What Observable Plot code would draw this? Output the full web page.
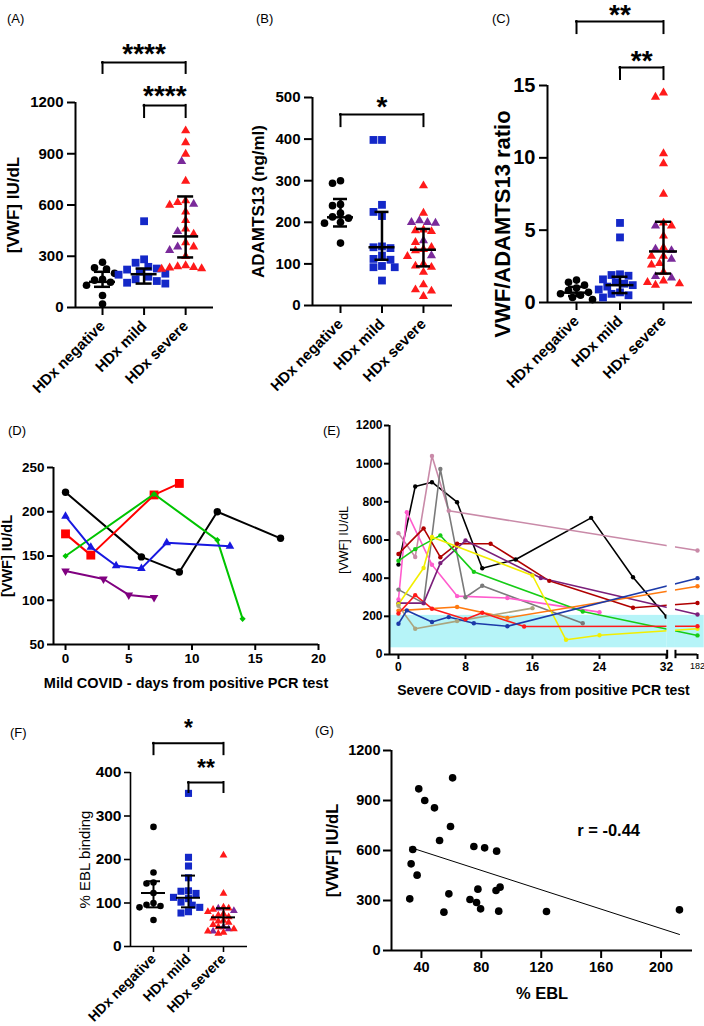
<!DOCTYPE html>
<html>
<head>
<meta charset="utf-8">
<script src="https://cdn.jsdelivr.net/npm/d3@7"></script>
<script src="https://cdn.jsdelivr.net/npm/@observablehq/plot@0.6"></script>
<style>
html,body{margin:0;padding:0;background:#fff;}
#root{position:relative;width:704px;height:1026px;overflow:hidden;background:#fff;font-family:"Liberation Sans",Arial,sans-serif;}
#root svg{position:absolute;overflow:visible;}
.plab{position:absolute;font-size:13px;line-height:13px;color:#000;font-family:"Liberation Sans",Arial,sans-serif;}
</style>
</head>
<body>
<div id="root"></div>
<script>
// ================= DATA =================
const groups = ["HDx negative", "HDx mild", "HDx severe"];

// (A) VWF antigen, IU/dL
const vwfNegative = [265, 232, 225, 200, 165, 160, 148, 130, 70, 20];
const vwfMild = [505, 282, 262, 238, 228, 222, 210, 198, 192, 180, 165, 155, 145, 140];
const vwfSevere = [1035, 965, 898, 855, 740, 625, 615, 605, 600, 560, 510, 460, 445, 430, 380, 355, 355, 335, 300, 245, 240, 235, 232, 228, 225];
const vwfSevereSubgroup = [0,0,0,1,0,0,0,1,0,0,0,0,1,0,0,1,0,1,0,0,0,0,0,0,0];
const vwfMedian = [150, 195, 416];
const vwfLower = [121, 140, 293];
const vwfUpper = [209, 228, 650];

// (B) ADAMTS13 ng/ml
const adNegative = [300, 294, 243, 240, 222, 213, 210, 200, 198, 150];
const adMild = [398, 398, 242, 225, 215, 142, 140, 138, 120, 112, 110, 95, 92, 92, 60];
const adSevere = [288, 222, 204, 200, 200, 198, 182, 180, 178, 156, 152, 140, 135, 132, 120, 118, 100, 95, 92, 80, 50, 38, 35, 22];
const adSevereSubgroup = [0,0,1,1,1,1,0,0,0,1,0,0,0,0,1,0,0,0,0,0,0,0,0,0];
const adMedian = [212, 140, 134];
const adLower = [190, 110, 94];
const adUpper = [256, 225, 184];

// (C) VWF/ADAMTS13 ratio
const ratioNegative = [1.55, 1.4, 1.2, 1.0, 0.85, 0.7, 0.6, 0.5, 0.35, 0.2];
const ratioMild = [5.5, 4.5, 1.95, 1.9, 1.85, 1.6, 1.4, 1.3, 1.2, 1.1, 0.9, 0.7, 0.6, 0.5, 0.35];
const ratioSevere = [14.5, 14.2, 10.3, 9.6, 7.5, 5.5, 5.3, 5.3, 4.6, 3.8, 3.7, 3.6, 3.2, 3.2, 3.0, 2.7, 2.6, 2.1, 1.8, 1.7, 1.5, 1.4, 1.3, 1.2];
const ratioSevereSubgroup = [0,0,0,0,0,0,1,0,0,0,1,1,0,0,1,0,0,0,1,1,0,0,0,0];
const ratioMedian = [0.68, 1.2, 3.53];
const ratioLower = [0.45, 0.65, 2.0];
const ratioUpper = [1.08, 1.78, 5.58];

// (D) Mild COVID time courses
const mild1Days = [0, 6, 9, 12, 17];      const mild1VWF = [222, 149, 132, 200, 170];
const mild2Days = [0, 2, 7, 9];           const mild2VWF = [175, 151, 219, 232];
const mild3Days = [0, 7, 12, 14];         const mild3VWF = [150, 220, 168, 79];
const mild4Days = [0, 2, 4, 6, 8, 13];    const mild4VWF = [195, 160, 139, 136, 165, 161];
const mild5Days = [0, 3, 5, 7];           const mild5VWF = [133, 124, 106, 103];

// (E) Severe COVID time courses (182 = late follow-up)
const sev1Days  = [0, 2, 4, 7, 10, 14, 23, 28, 32];  const sev1VWF  = [471, 880, 903, 798, 452, 498, 716, 405, 198];
const sev2Days  = [0, 2, 4, 6, 182];                 const sev2VWF  = [636, 511, 1040, 753, 545];
const sev3Days  = [0, 3, 5, 8, 10, 22];              const sev3VWF  = [340, 269, 972, 300, 360, 164];
const sev4Days  = [0, 1, 4, 7, 13, 24];              const sev4VWF  = [288, 746, 470, 306, 296, 222];
const sev5Days  = [0, 3, 5, 7, 11, 18, 28, 182];     const sev5VWF  = [527, 661, 510, 580, 580, 386, 245, 270];
const sev6Days  = [0, 3, 5, 8, 17, 182];             const sev6VWF  = [269, 269, 479, 597, 401, 210];
const sev7Days  = [0, 2, 5, 9, 22, 182];             const sev7VWF  = [491, 552, 624, 433, 225, 100];
const sev8Days  = [0, 3, 4, 16, 20, 24, 182];        const sev8VWF  = [263, 453, 616, 414, 77, 101, 135];
const sev9Days  = [0, 7, 13, 182];                   const sev9VWF  = [230, 249, 192, 358];
const sev10Days = [0, 2, 7, 16];                     const sev10VWF = [255, 135, 175, 243];
const sev11Days = [0, 2, 4, 8, 10, 15, 182];         const sev11VWF = [215, 311, 240, 185, 219, 147, 148];
const sev12Days = [0, 1, 4, 6, 9, 13, 182];          const sev12VWF = [161, 231, 170, 196, 164, 148, 400];
const normalRange = [35, 205];

// (F) % EBL binding
const eblNegative = [275, 170, 147, 145, 123, 100, 96, 93, 90, 61];
const eblMild = [352, 205, 185, 158, 128, 127, 122, 113, 110, 102, 95, 90, 80, 77];
const eblSevere = [210, 122, 90, 88, 88, 85, 82, 80, 75, 72, 68, 65, 60, 58, 55, 50, 45, 45, 40, 40, 35, 35, 32, 30];
const eblSevereSubgroup = [0,0,0,1,0,0,1,0,0,0,0,0,0,0,0,0,1,0,1,0,1,0,0,0];
const eblMedian = [123, 112, 67];
const eblLower = [90, 90, 44];
const eblUpper = [150, 163, 88];

// (G) VWF vs % EBL
const corrEBL = [32.2, 33.1, 34.2, 37.1, 38.2, 42.2, 48.7, 52.1, 55.0, 58.3, 59.4, 60.8, 72.4, 75.0, 76.8, 77.7, 79.5, 82.2, 89.8, 90.2, 91.6, 92.5, 123.5, 212.3];
const corrVWF = [310, 520, 606, 452, 970, 900, 856, 660, 230, 340, 744, 1036, 306, 624, 288, 368, 250, 616, 360, 596, 236, 380, 234, 244];
const corrR = "r = -0.44";

// ================= STYLE / HELPERS =================
const FONT = "'Liberation Sans', Arial, sans-serif";
const BLUE = "#1428c8", RED = "#ff1a1a", PURPLE = "#7a2a9a";
const plain = d => `${d}`;
const root = document.getElementById("root");
function place(svg, left, top) {
  svg.style.left = left + "px"; svg.style.top = top + "px";
  root.appendChild(svg);
}
function label(txt, left, top) {
  const d = document.createElement("div");
  d.className = "plab"; d.textContent = txt;
  d.style.left = left + "px"; d.style.top = top + "px";
  root.appendChild(d);
}
function dodge(vals, pxY, diam) {
  const order = d3.range(vals.length).sort((a, b) => vals[b] - vals[a]);
  const placed = [];
  const off = new Array(vals.length).fill(0);
  for (const i of order) {
    const y = vals[i] * pxY;
    for (let k = 0; k < 80; k++) {
      const c = k === 0 ? 0 : (k % 2 ? -1 : 1) * Math.ceil(k / 2) * diam / 2;
      if (placed.every(p => (p.x - c) ** 2 + (p.y - y) ** 2 >= diam * diam * 0.95)) { off[i] = c; break; }
    }
    placed.push({x: off[i], y});
  }
  return off;
}
const triDown = {
  draw(ctx, size) {
    const s3 = Math.sqrt(3);
    const y = -Math.sqrt(size / (s3 * 3));
    ctx.moveTo(0, -y * 2);
    ctx.lineTo(-s3 * y, y);
    ctx.lineTo(s3 * y, y);
    ctx.closePath();
  }
};

function dotPanel(o) {
  const plotH = o.h - o.mT - o.mB, plotW = o.w - o.mL - o.mR;
  const pxY = plotH / (o.yDomain[1] - o.yDomain[0]);
  const pxX = plotW / (o.xDomain[1] - o.xDomain[0]);
  const rows = [];
  o.series.forEach((vals, g) => {
    const off = dodge(vals, pxY, o.spacing[g]);
    vals.forEach((v, i) => rows.push({g, v, x: g + off[i] / pxX, sub: g === 2 ? o.sub[i] : 0}));
  });
  const stats = [0, 1, 2].map(g => ({g, m: o.median[g], lo: o.lower[g], hi: o.upper[g]}));
  const mw = o.medHalf / pxX, cw = o.capHalf / pxX;
  const [x0, x1] = o.xDomain;
  const lw = o.axisW;
  return Plot.plot({
    width: o.w, height: o.h,
    marginLeft: o.mL, marginRight: o.mR, marginTop: o.mT, marginBottom: o.mB,
    x: {domain: o.xDomain}, y: {domain: o.yDomain},
    style: {fontFamily: FONT, color: "#000", background: "transparent"},
    marks: [
      Plot.ruleY([o.yDomain[0]], {x1: x0, x2: x1, strokeWidth: lw}),
      Plot.ruleX([x0], {y1: o.yDomain[0], y2: o.yDomain[1], strokeWidth: lw}),
      Plot.axisY({ticks: o.yTicks, tickFormat: plain, tickSize: o.tickSize, tickPadding: o.tickPad, fontSize: o.tickFont, fontWeight: "bold", strokeWidth: lw, label: null}),
      Plot.axisX({ticks: [0, 1, 2], tickFormat: i => groups[i], tickRotate: -45, tickSize: o.tickSize, tickPadding: o.catPad, fontSize: o.catFont, fontWeight: "bold", strokeWidth: lw, label: null}),
      Plot.dot(rows.filter(d => d.g === 0), {x: "x", y: "v", symbol: "circle", r: o.r[0], fill: "#000"}),
      Plot.dot(rows.filter(d => d.g === 1), {x: "x", y: "v", symbol: "square", r: o.r[1], fill: BLUE}),
      Plot.dot(rows.filter(d => d.g === 2), {x: "x", y: "v", symbol: "triangle", r: o.r[2], fill: d => d.sub ? PURPLE : RED}),
      Plot.ruleX(stats, {x: "g", y1: "lo", y2: "hi", strokeWidth: o.barW}),
      Plot.ruleY(stats, {y: "m", x1: d => d.g - mw, x2: d => d.g + mw, strokeWidth: o.barW}),
      Plot.ruleY(stats, {y: "lo", x1: d => d.g - cw, x2: d => d.g + cw, strokeWidth: o.barW}),
      Plot.ruleY(stats, {y: "hi", x1: d => d.g - cw, x2: d => d.g + cw, strokeWidth: o.barW}),
      Plot.ruleY(o.brackets, {y: "y", x1: "a", x2: "b", strokeWidth: 2, strokeLinecap: "square"}),
      Plot.ruleX(o.brackets, {x: "a", y1: "drop", y2: "y", strokeWidth: 2, strokeLinecap: "square"}),
      Plot.ruleX(o.brackets, {x: "b", y1: "drop", y2: "y", strokeWidth: 2, strokeLinecap: "square"}),
      Plot.text(o.brackets, {x: d => (d.a + d.b) / 2, y: "y", text: "label", lineAnchor: "bottom", fontSize: o.starFont, fontWeight: "bold", dy: o.starDy}),
      Plot.text([o.yLabel], {text: d => d, frameAnchor: "left", rotate: -90, dx: o.yLabelDx, dy: o.yLabelDy || 0, textAnchor: "middle", lineAnchor: "middle", fontSize: o.yLabelFont, fontWeight: o.yLabelWeight})
    ]
  });
}

// ================= PANEL A =================
place(dotPanel({
  w: 230, h: 410, mL: 75, mR: 17, mT: 102, mB: 103,
  yDomain: [0, 1200], xDomain: [-0.65, 2.67], yTicks: [0, 300, 600, 900, 1200],
  series: [vwfNegative, vwfMild, vwfSevere], sub: vwfSevereSubgroup,
  median: vwfMedian, lower: vwfLower, upper: vwfUpper,
  spacing: [8, 8.5, 8], r: [3.8, 4.4, 3.4], medHalf: 13, capHalf: 8, barW: 2.5,
  axisW: 2, tickSize: 8, tickPad: 4, tickFont: 15, catFont: 15, catPad: 8,
  yLabel: "[VWF] IU/dL", yLabelFont: 17, yLabelWeight: "bold", yLabelDx: -62,
  brackets: [{a: 0, b: 2, y: 1434, drop: 1370, label: "****"}, {a: 1, b: 2, y: 1183, drop: 1112, label: "****"}],
  starFont: 28, starDy: 0
}), 0, 0);

// ================= PANEL B =================
place(dotPanel({
  w: 230, h: 410, mL: 82, mR: 8, mT: 97, mB: 105,
  yDomain: [0, 500], xDomain: [-0.675, 2.7], yTicks: [0, 100, 200, 300, 400, 500],
  series: [adNegative, adMild, adSevere], sub: adSevereSubgroup,
  median: adMedian, lower: adLower, upper: adUpper,
  spacing: [8, 8.5, 8], r: [3.8, 4.4, 3.4], medHalf: 13, capHalf: 7, barW: 2.5,
  axisW: 2, tickSize: 8, tickPad: 4, tickFont: 15, catFont: 15, catPad: 8,
  yLabel: "ADAMTS13 (ng/ml)", yLabelFont: 17, yLabelWeight: "bold", yLabelDx: -54,
  brackets: [{a: 0, b: 2, y: 459, drop: 430, label: "*"}],
  starFont: 28, starDy: 1
}), 230, 0);

// ================= PANEL C =================
place(dotPanel({
  w: 244, h: 410, mL: 87, mR: 12, mT: 85, mB: 108,
  yDomain: [0, 15], xDomain: [-0.667, 2.667], yTicks: [0, 5, 10, 15],
  series: [ratioNegative, ratioMild, ratioSevere], sub: ratioSevereSubgroup,
  median: ratioMedian, lower: ratioLower, upper: ratioUpper,
  spacing: [8, 8.5, 8], r: [3.8, 4.4, 3.4], medHalf: 14, capHalf: 8, barW: 2.5,
  axisW: 2, tickSize: 8, tickPad: 4, tickFont: 20, catFont: 15, catPad: 8,
  yLabel: "VWF/ADAMTS13 ratio", yLabelFont: 22, yLabelWeight: "bold", yLabelDx: -45, yLabelDy: 30,
  brackets: [{a: 0, b: 2, y: 19.42, drop: 18.59, label: "**"}, {a: 1, b: 2, y: 16.24, drop: 15.41, label: "**"}],
  starFont: 28, starDy: 2
}), 460, 0);

// ================= PANEL D =================
(function () {
  const series = [
    {days: mild1Days, v: mild1VWF, color: "#000000", symbol: "circle", r: 3.7},
    {days: mild2Days, v: mild2VWF, color: "#ff0000", symbol: "square", r: 5},
    {days: mild3Days, v: mild3VWF, color: "#00c400", symbol: "diamond2", r: 2.8},
    {days: mild4Days, v: mild4VWF, color: "#1818e0", symbol: "triangle", r: 3.2},
    {days: mild5Days, v: mild5VWF, color: "#800080", symbol: triDown, r: 3.2}
  ];
  const marks = [
    Plot.ruleY([50], {x1: -0.95, x2: 20, strokeWidth: 2}),
    Plot.ruleX([-0.95], {y1: 50, y2: 250, strokeWidth: 2}),
    Plot.axisY({ticks: [50, 100, 150, 200, 250], tickFormat: plain, tickSize: 6, tickPadding: 3, fontSize: 13.5, fontWeight: "bold", strokeWidth: 2, label: null}),
    Plot.axisX({ticks: [0, 5, 10, 15, 20], tickFormat: plain, tickSize: 6, tickPadding: 3, fontSize: 13.5, fontWeight: "bold", strokeWidth: 2, label: null})
  ];
  series.forEach(s => {
    const rows = s.days.map((d, i) => ({x: d, y: s.v[i]}));
    marks.push(Plot.line(rows, {x: "x", y: "y", stroke: s.color, strokeWidth: 2}));
    marks.push(Plot.dot(rows, {x: "x", y: "y", fill: s.color, symbol: s.symbol, r: s.r}));
  });
  marks.push(Plot.text(["[VWF] IU/dL"], {text: d => d, frameAnchor: "left", rotate: -90, dx: -46, textAnchor: "middle", lineAnchor: "middle", fontSize: 14.5, fontWeight: "bold"}));
  marks.push(Plot.text(["Mild COVID - days from positive PCR test"], {text: d => d, frameAnchor: "bottom", dy: 39, textAnchor: "middle", lineAnchor: "middle", fontSize: 14.5, fontWeight: "bold"}));
  place(Plot.plot({
    width: 340, height: 290, marginLeft: 53, marginRight: 22, marginTop: 57, marginBottom: 56,
    x: {domain: [-0.95, 20]}, y: {domain: [50, 250]},
    style: {fontFamily: FONT, color: "#000", background: "transparent"},
    marks
  }), 0, 410);
})();

// ================= PANEL E =================
(function () {
  const BREAK = 3.7;               // axis position of the 182-day follow-up beyond day 32
  const pos = d => d <= 32 ? d : 32 + BREAK;
  const gapL = 32.08, gapR = 33.07, xMin = -1.07, xMax = 32 + BREAK;
  const series = [
    [sev1Days, sev1VWF, "#000000"], [sev2Days, sev2VWF, "#c98aa8"], [sev3Days, sev3VWF, "#7a7a7a"],
    [sev4Days, sev4VWF, "#ff5ccd"], [sev5Days, sev5VWF, "#b00000"], [sev6Days, sev6VWF, "#7a1f7a"],
    [sev7Days, sev7VWF, "#16cc16"], [sev8Days, sev8VWF, "#f2ee00"], [sev9Days, sev9VWF, "#ff7a10"],
    [sev10Days, sev10VWF, "#aaa57f"], [sev11Days, sev11VWF, "#ff1a1a"], [sev12Days, sev12VWF, "#1c3aa8"]
  ];
  const rows = [];
  series.forEach(([days, vals, color], s) => days.forEach((d, i) => rows.push({s, x: pos(d), y: vals[i], color})));
  place(Plot.plot({
    width: 364, height: 290, marginLeft: 49, marginRight: 7, marginTop: 15, marginBottom: 46,
    x: {domain: [xMin, xMax]}, y: {domain: [0, 1200]},
    style: {fontFamily: FONT, color: "#000", background: "transparent"},
    marks: [
      Plot.rect([normalRange], {x1: xMin, x2: 36.5, y1: d => d[0], y2: d => d[1], fill: "#b6f4f8"}),
      Plot.line(rows, {x: "x", y: "y", z: "s", stroke: "color", strokeWidth: 1.6}),
      Plot.dot(rows, {x: "x", y: "y", fill: "color", r: 2.2}),
      Plot.rect([0], {x1: gapL, x2: gapR, y1: 1, y2: 1200, fill: "#fff"}),
      Plot.rect([normalRange], {x1: gapL, x2: gapR, y1: d => d[0], y2: d => d[1], fill: "#b6f4f8"}),
      Plot.ruleX([xMin], {y1: 0, y2: 1200, strokeWidth: 2}),
      Plot.ruleY([0], {x1: xMin, x2: gapL, strokeWidth: 2}),
      Plot.ruleY([0], {x1: gapR, x2: xMax, strokeWidth: 2}),
      Plot.ruleX([gapL, gapR], {y1: -22, y2: 22, strokeWidth: 2}),
      Plot.axisY({ticks: d3.range(0, 1201, 200), tickFormat: plain, tickSize: 5, tickPadding: 2, fontSize: 12, fontWeight: "bold", strokeWidth: 2, label: null}),
      Plot.axisX({ticks: [0, 8, 16, 24, 32], tickFormat: plain, tickSize: 5, tickPadding: 3, fontSize: 12, fontWeight: "bold", strokeWidth: 2, label: null}),
      Plot.axisX({ticks: [xMax], tickFormat: () => "182", tickSize: 5, tickPadding: 3, fontSize: 9, strokeWidth: 2, label: null}),
      Plot.text(["[VWF] IU/dL"], {text: d => d, frameAnchor: "left", rotate: -90, dx: -46, textAnchor: "middle", lineAnchor: "middle", fontSize: 12.5}),
      Plot.text(["Severe COVID - days from positive PCR test"], {text: d => d, frameAnchor: "bottom", dy: 36, textAnchor: "middle", lineAnchor: "middle", fontSize: 14, fontWeight: "bold"})
    ]
  }), 340, 410);
})();

// ================= PANEL F =================
place(dotPanel({
  w: 260, h: 326, mL: 130, mR: 13, mT: 72, mB: 80,
  yDomain: [0, 400], xDomain: [-0.657, 2.686], yTicks: [0, 100, 200, 300, 400],
  series: [eblNegative, eblMild, eblSevere], sub: eblSevereSubgroup,
  median: eblMedian, lower: eblLower, upper: eblUpper,
  spacing: [7, 7.5, 5.2], r: [3.3, 4, 2.9], medHalf: 12, capHalf: 7, barW: 2,
  axisW: 1.6, tickSize: 6, tickPad: 3, tickFont: 15.5, catFont: 14, catPad: 4,
  yLabel: "% EBL binding", yLabelFont: 15, yLabelWeight: "normal", yLabelDx: -45,
  brackets: [{a: 0, b: 2, y: 467, drop: 441, label: "*"}, {a: 1, b: 2, y: 377, drop: 354, label: "**"}],
  starFont: 23, starDy: -7
}), 0, 700);

// ================= PANEL G =================
(function () {
  const rows = corrEBL.map((x, i) => ({x, y: corrVWF[i]}));
  place(Plot.plot({
    width: 444, height: 326, marginLeft: 131, marginRight: 12, marginTop: 50, marginBottom: 76,
    x: {domain: [20, 221]}, y: {domain: [0, 1200]},
    style: {fontFamily: FONT, color: "#000", background: "transparent"},
    marks: [
      Plot.ruleY([0], {x1: 20, x2: 221, strokeWidth: 2}),
      Plot.ruleX([20], {y1: 0, y2: 1200, strokeWidth: 2}),
      Plot.axisY({ticks: [0, 300, 600, 900, 1200], tickFormat: plain, tickSize: 8, tickPadding: 3, fontSize: 14.5, fontWeight: "bold", strokeWidth: 2, label: null}),
      Plot.axisX({ticks: [40, 80, 120, 160, 200], tickFormat: plain, tickSize: 8, tickPadding: 3, fontSize: 14.5, fontWeight: "bold", strokeWidth: 2, label: null}),
      Plot.linearRegressionY(rows, {x: "x", y: "y", ci: 0, stroke: "#000", strokeWidth: 1}),
      Plot.dot(rows, {x: "x", y: "y", r: 3.8, fill: "#000"}),
      Plot.text([corrR], {text: d => d, x: 165, y: 720, fontSize: 16.5, fontWeight: "bold"}),
      Plot.text(["[VWF] IU/dL"], {text: d => d, frameAnchor: "left", rotate: -90, dx: -59, textAnchor: "middle", lineAnchor: "middle", fontSize: 16.5, fontWeight: "bold"}),
      Plot.text(["% EBL"], {text: d => d, frameAnchor: "bottom", dy: 43, textAnchor: "middle", lineAnchor: "middle", fontSize: 16.5, fontWeight: "bold"})
    ]
  }), 260, 700);
})();

// ================= PANEL LETTERS =================
label("(A)", 7, 12);
label("(B)", 256, 12);
label("(C)", 492, 12);
label("(D)", 8, 424);
label("(E)", 323, 424);
label("(F)", 10, 726);
label("(G)", 315, 724);
</script>
</body>
</html>
